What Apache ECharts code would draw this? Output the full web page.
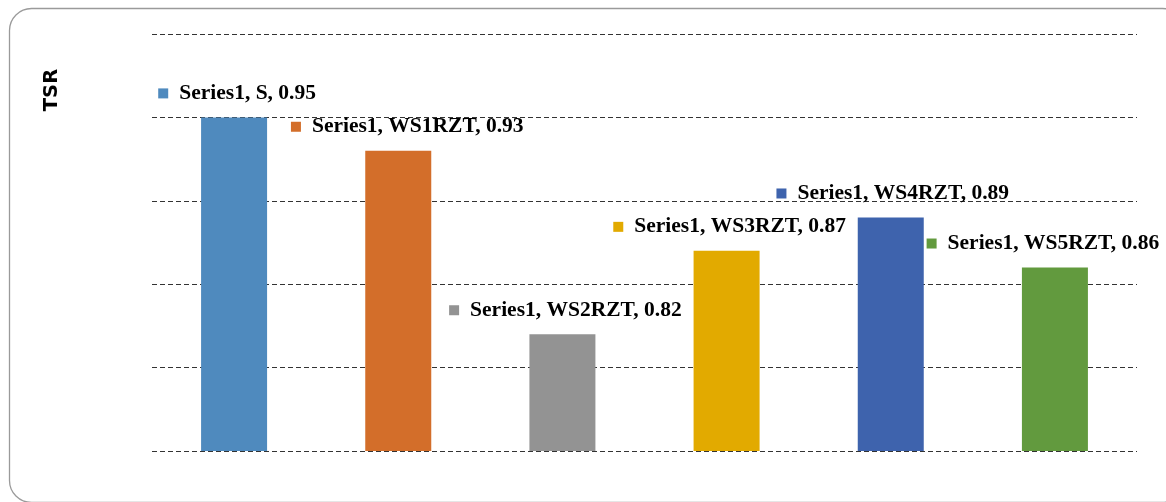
<!DOCTYPE html>
<html>
<head>
<meta charset="utf-8">
<script src="https://cdn.jsdelivr.net/npm/echarts@6/dist/echarts.min.js"></script>
<style>
html,body{margin:0;padding:0;background:#fff;}
#chart{width:1166px;height:502px;}
</style>
</head>
<body>
<div id="chart"></div>
<script>
var categories = ['S', 'WS1RZT', 'WS2RZT', 'WS3RZT', 'WS4RZT', 'WS5RZT'];
var values = [0.95, 0.93, 0.82, 0.87, 0.89, 0.86];
var seriesName = 'Series1';
var yTicks = [0.75, 0.80, 0.85, 0.90, 0.95, 1.00];

var colors = ['#4F8ABE', '#D36E2A', '#939393', '#E2AA00', '#3E63AD', '#629A3E'];
var labelDx = [3, 9, 3, 3, 2, -12];

var data = values.map(function (v, i) {
  return {
    value: v,
    itemStyle: { color: colors[i] },
    label: {
      offset: [labelDx[i], 0],
      rich: {
        sq: { width: 10, height: 10, backgroundColor: colors[i] },
        g: { width: 11 },
        t: { fontFamily: 'Liberation Serif', fontWeight: 'bold', fontSize: 21.5, color: '#000', lineHeight: 22 }
      }
    }
  };
});

var chart = echarts.init(document.getElementById('chart'));
chart.setOption({
  animation: false,
  backgroundColor: '#fff',
  grid: { left: 152, right: 29, top: 34, bottom: 51, containLabel: false },
  graphic: [
    {
      type: 'rect', left: 7, top: 6, z: -1,
      shape: { x: 0, y: 0, width: 1175, height: 494, r: 22 },
      style: { fill: 'none', stroke: '#9a9a9a', lineWidth: 1.3 }
    },
    {
      type: 'text', x: 52, y: 90, rotation: Math.PI / 2,
      style: { text: 'TSR', fontFamily: 'DejaVu Sans', fontWeight: 'bold', fontSize: 19.5, fill: '#000', align: 'center', verticalAlign: 'middle' }
    }
  ],
  xAxis: {
    type: 'category', data: categories,
    axisLine: { show: false }, axisTick: { show: false }, axisLabel: { show: false }
  },
  yAxis: {
    type: 'value', min: yTicks[0], max: yTicks[yTicks.length - 1], interval: 0.05,
    axisLine: { show: false }, axisTick: { show: false }, axisLabel: { show: false },
    splitLine: { show: true, lineStyle: { color: '#333', width: 1.2, type: [5, 3] } }
  },
  series: [{
    type: 'bar', name: seriesName, data: data, barWidth: 66,
    label: {
      show: true, position: 'top', distance: 13,
      formatter: function (p) { return '{sq|}{g|}{t|' + seriesName + ', ' + p.name + ', ' + p.value.toFixed(2) + '}'; }
    }
  }]
});
</script>
</body>
</html>
